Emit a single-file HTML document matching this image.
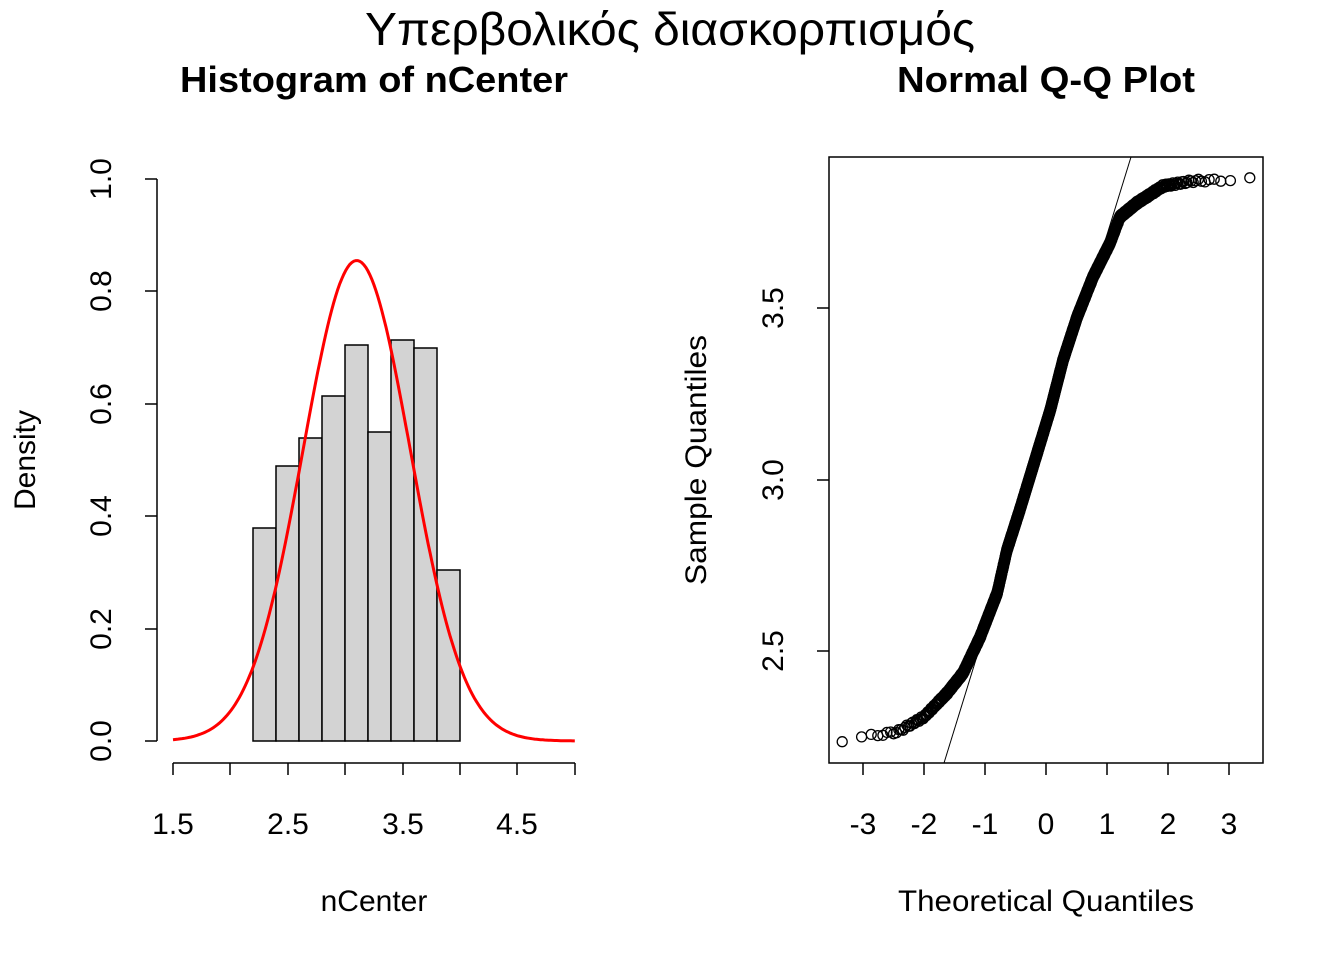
<!DOCTYPE html>
<html><head><meta charset="utf-8"><style>
html,body{margin:0;padding:0;background:#fff;overflow:hidden}
svg{display:block}
text{font-family:"Liberation Sans",Arial,sans-serif;fill:#000}
</style></head><body>
<svg id="s" width="1344" height="960" xmlns="http://www.w3.org/2000/svg">
<text x="670" y="45" font-size="46" text-anchor="middle" textLength="610" lengthAdjust="spacingAndGlyphs">Υπερβολικός διασκορπισμός</text>
<text x="374" y="92" font-size="36" font-weight="bold" text-anchor="middle" textLength="388" lengthAdjust="spacingAndGlyphs">Histogram of nCenter</text>
<text x="1046" y="92" font-size="36" font-weight="bold" text-anchor="middle" textLength="298" lengthAdjust="spacingAndGlyphs">Normal Q-Q Plot</text>
<g fill="#d3d3d3" stroke="#000" stroke-width="1.5">
<rect x="253" y="528" width="23" height="213"/>
<rect x="276" y="466" width="23" height="275"/>
<rect x="299" y="438" width="23" height="303"/>
<rect x="322" y="396" width="23" height="345"/>
<rect x="345" y="345" width="23" height="396"/>
<rect x="368" y="432" width="23" height="309"/>
<rect x="391" y="340" width="23" height="401"/>
<rect x="414" y="348" width="23" height="393"/>
<rect x="437" y="570" width="23" height="171"/>
</g>
<path id="curve" fill="none" stroke="#f00" stroke-width="3"/>
<g stroke="#000" stroke-width="1.5" fill="none">
<line x1="157" y1="179" x2="157" y2="741"/>
<line x1="157" y1="741" x2="145" y2="741"/><line x1="157" y1="629" x2="145" y2="629"/>
<line x1="157" y1="516" x2="145" y2="516"/><line x1="157" y1="404" x2="145" y2="404"/>
<line x1="157" y1="291" x2="145" y2="291"/><line x1="157" y1="179" x2="145" y2="179"/>
<line x1="173" y1="763" x2="575" y2="763"/>
<line x1="173" y1="763" x2="173" y2="775"/><line x1="230" y1="763" x2="230" y2="775"/>
<line x1="288" y1="763" x2="288" y2="775"/><line x1="345" y1="763" x2="345" y2="775"/>
<line x1="403" y1="763" x2="403" y2="775"/><line x1="460" y1="763" x2="460" y2="775"/>
<line x1="517" y1="763" x2="517" y2="775"/><line x1="575" y1="763" x2="575" y2="775"/>
<rect x="829" y="157" width="434" height="606"/>
<line x1="863" y1="763" x2="863" y2="775"/><line x1="924" y1="763" x2="924" y2="775"/>
<line x1="985" y1="763" x2="985" y2="775"/><line x1="1046" y1="763" x2="1046" y2="775"/>
<line x1="1107" y1="763" x2="1107" y2="775"/><line x1="1168" y1="763" x2="1168" y2="775"/>
<line x1="1229" y1="763" x2="1229" y2="775"/>
<line x1="829" y1="651" x2="817" y2="651"/><line x1="829" y1="480" x2="817" y2="480"/>
<line x1="829" y1="308" x2="817" y2="308"/>
<line x1="944" y1="763" x2="1131" y2="157" stroke-width="1"/>
</g>
<g id="pts" fill="none" stroke="#000" stroke-width="1.3"></g>
<g font-size="30" text-anchor="middle">
<text transform="translate(111,741) rotate(-90)">0.0</text>
<text transform="translate(111,629) rotate(-90)">0.2</text>
<text transform="translate(111,516) rotate(-90)">0.4</text>
<text transform="translate(111,404) rotate(-90)">0.6</text>
<text transform="translate(111,291) rotate(-90)">0.8</text>
<text transform="translate(111,179) rotate(-90)">1.0</text>
<text x="173" y="834">1.5</text><text x="288" y="834">2.5</text>
<text x="403" y="834">3.5</text><text x="517" y="834">4.5</text>
<text x="863" y="834">-3</text><text x="924" y="834">-2</text><text x="985" y="834">-1</text>
<text x="1046" y="834">0</text><text x="1107" y="834">1</text><text x="1168" y="834">2</text>
<text x="1229" y="834">3</text>
<text transform="translate(783,651) rotate(-90)">2.5</text>
<text transform="translate(783,480) rotate(-90)">3.0</text>
<text transform="translate(783,308) rotate(-90)">3.5</text>
<text x="374" y="911">nCenter</text>
<text x="1046" y="911" textLength="296" lengthAdjust="spacingAndGlyphs">Theoretical Quantiles</text>
<text transform="translate(35,460) rotate(-90)">Density</text>
<text transform="translate(706,460) rotate(-90)" textLength="250" lengthAdjust="spacingAndGlyphs">Sample Quantiles</text>
</g>
</svg>
<script>
(function(){
var d="",mu=3.1,sd=0.4666;
for(var i=0;i<=200;i++){var v=1.5+3.5*i/200;var y=Math.exp(-0.5*Math.pow((v-mu)/sd,2))/(sd*Math.sqrt(2*Math.PI));
var px=173+(v-1.5)*114.8,py=741-y*562;d+=(i?"L":"M")+px.toFixed(1)+","+py.toFixed(1);}
document.getElementById("curve").setAttribute("d",d);
function cdf(x){var t=1/(1+0.2316419*Math.abs(x));var dd=0.3989423*Math.exp(-x*x/2);
var p=dd*t*(0.3193815+t*(-0.3565638+t*(1.781478+t*(-1.821256+t*1.330274))));return x>0?1-p:p;}
function qn(p){var lo=-6,hi=6;for(var k=0;k<60;k++){var m=(lo+hi)/2;if(cdf(m)<p)lo=m;else hi=m;}return (lo+hi)/2;}
var A=[[-3.4,741],[-3.33,740],[-2.44,732],[-2.0,717],[-1.62,693],[-1.36,673],[-1.08,637],[-0.8,593],[-0.64,550],[-0.43,510],[-0.18,460],[0.07,410],[0.28,360],[0.51,317],[0.77,277],[1.05,243],[1.21,217],[1.49,203],[1.92,186],[2.4,181],[2.9,180],[3.4,179]];
function f(q){if(q<=A[0][0])return 741;for(var i=1;i<A.length;i++){if(q<=A[i][0]){var t=(q-A[i-1][0])/(A[i][0]-A[i-1][0]);return A[i-1][1]+t*(A[i][1]-A[i-1][1]);}}return 179;}
var n=1200,s="";
for(var i=1;i<=n;i++){var q=qn((i-0.5)/n);var x=1046+q*61;var y=f(q)+(Math.sin(i*1.7)*1.5);
s+='<circle cx="'+x.toFixed(1)+'" cy="'+y.toFixed(1)+'" r="5"/>';}
document.getElementById("pts").innerHTML=s;
})();
</script>
</body></html>
